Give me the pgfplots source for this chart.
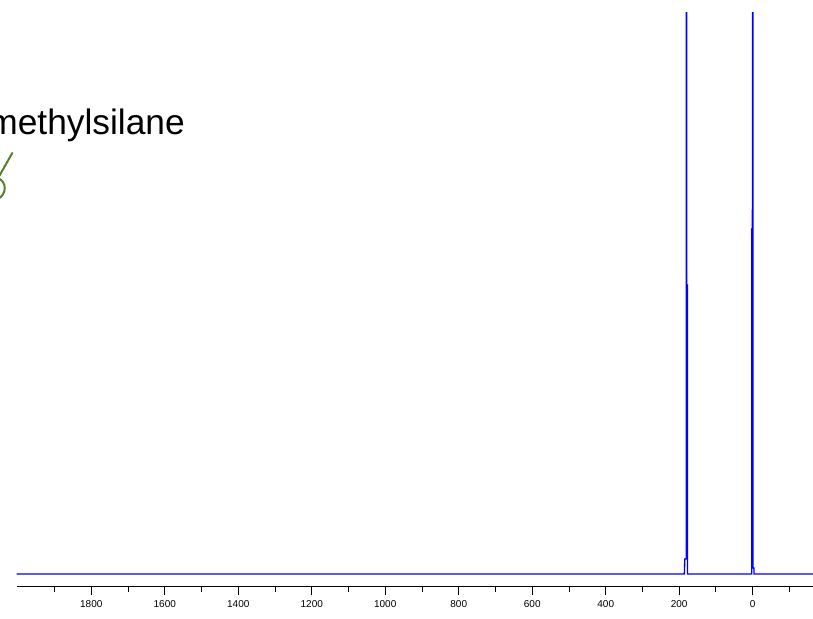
\documentclass[border=0pt]{standalone}
\usepackage{pgfplots}
\pgfplotsset{compat=1.18}
\usepackage{fontspec}
\setmainfont{Liberation Sans}
\definecolor{arrowgreen}{RGB}{88,128,42}
\begin{document}
\begin{tikzpicture}
\useasboundingbox (0pt,0pt) rectangle (609.75pt,463.5pt);
\begin{axis}[
  at={(12.525pt,24pt)}, anchor=south west,
  scale only axis,
  width=597.2pt, height=429.75pt,
  xmin=-164, xmax=2003, x dir=reverse,
  ymin=0, ymax=573,
  hide y axis,
  axis x line*=bottom,
  axis line style={black, line width=0.7pt},
  xtick={0,200,...,1800},
  minor xtick={-100,100,300,...,1900},
  tick align=outside,
  major tick length=6.75pt,
  minor tick length=4.5pt,
  tick style={black, line width=0.7pt},
  /pgf/number format/assume math mode=true,
  /pgf/number format/1000 sep={},
  xticklabel style={font=\fontsize{7.5}{8}\selectfont, yshift=-0.5pt},
  clip=true,
]
\addplot[blue, line width=1pt] coordinates {
(2003,12) (186,12) (184.8,27) (181,27) (180.2,1000) (179.8,1000) (179.6,301) (177.8,301) (177.4,12)
(3.5,12) (2.6,12) (2.2,357) (0.8,357) (0.3,1000) (-0.3,1000) (-0.8,18) (-3.2,18) (-3.8,12) (-164,12)
};
\end{axis}
\begin{scope}[x=0.75pt,y=0.75pt]
\node[anchor=base east, inner sep=0pt, font=\fontsize{26.5}{30}\selectfont] at (185,483) {Tetramethylsilane};
\draw[arrowgreen, line width=1.5pt, line cap=round] (12.3,465) -- (-3,438);
\draw[arrowgreen, line width=1.5pt] (-2,440) .. controls (7,436) and (7,424) .. (-2,419);
\end{scope}
\end{tikzpicture}
\end{document}
